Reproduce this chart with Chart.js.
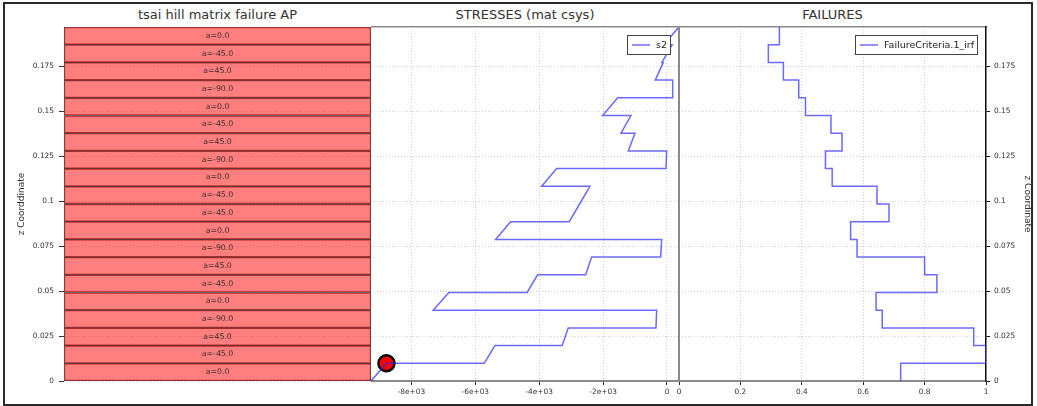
<!DOCTYPE html>
<html>
<head>
<meta charset="utf-8">
<title>tsai hill matrix failure AP</title>
<script src="https://cdn.jsdelivr.net/npm/chart.js@4.4.1/dist/chart.umd.min.js"></script>
<style>
  html, body { margin: 0; padding: 0; background: #fff; }
  body { width: 1037px; height: 406px; position: relative; overflow: hidden; font-family: 'DejaVu Sans', sans-serif; }
  canvas { position: absolute; top: 0; }
  #cvPlies { left: 0; }
  #cvStress { left: 371px; }
  #cvFail { left: 671px; }
  .ttl { position: absolute; top: 6px; height: 17px; line-height: 17px; font-size: 13px; color: #333; text-align: center; white-space: nowrap; }
  #frame { position: absolute; left: 3px; top: 2px; width: 1026px; height: 400px; border: 2px solid #2a2a2a; z-index: 5; }
</style>
</head>
<body>
<div class="ttl" style="left:64px;width:307px;">tsai hill matrix failure AP</div>
<div class="ttl" style="left:371px;width:308px;">STRESSES (mat csys)</div>
<div class="ttl" style="left:679px;width:307px;">FAILURES</div>
<canvas id="cvPlies" width="371" height="406"></canvas>
<canvas id="cvStress" width="308" height="406"></canvas>
<canvas id="cvFail" width="366" height="406"></canvas>
<div id="frame"></div>
<script>
// Laminate layup, listed from the bottom face (z = 0) upwards
const plyAngles = [0, -45, 45, -90, 0, -45, 45, -90, 0, -45, -45, 0, -90, 45, -45, 0, -90, 45, -45, 0];
const plyThickness = 0.0098425;

// s2 in the material system at the bottom and top face of each ply
const s2Bottom = [-9264, -5720, -3279, -345, -7318, -4375, -2546, -197, -5364, -3060,
                  -2734, -3924, -31, -1212, -1441, -2014, 179, -366, -160, -105];
const s2Top    = [-8780, -5385, -3091, -323, -6826, -4050, -2358, -166, -4895, -2734,
                  -2411, -3454, -9, -1002, -1128, -1544, 179, -116, 160, 376];

// Tsai-Hill matrix failure index of each ply
const failureIndex = [0.722, 1.0, 0.960, 0.662, 0.642, 0.840, 0.800, 0.580, 0.559, 0.684,
                      0.645, 0.499, 0.477, 0.531, 0.495, 0.412, 0.390, 0.340, 0.291, 0.327];

// Ply whose top face is flagged as the critical point
const criticalPly = 0;

// Axis ticks
const zTicks = [0, 0.025, 0.05, 0.075, 0.1, 0.125, 0.15, 0.175];
const zTickLabels = ['0', '0.025', '0.05', '0.075', '0.1', '0.125', '0.15', '0.175'];
const stressTicks = [-8000, -6000, -4000, -2000, 0];
const stressTickLabels = ['-8e+03', '-6e+03', '-4e+03', '-2e+03', '0'];
const failTicks = [0, 0.2, 0.4, 0.6, 0.8, 1];
const failTickLabels = ['0', '0.2', '0.4', '0.6', '0.8', '1'];

// Ply face coordinates
const zFaces = [0];
plyAngles.forEach((_, i) => zFaces.push(zFaces[i] + plyThickness));
const zTop = zFaces[zFaces.length - 1];

const stressPoints = [];
s2Bottom.forEach((v, i) => {
  stressPoints.push({ x: v, y: zFaces[i] });
  stressPoints.push({ x: s2Top[i], y: zFaces[i + 1] });
});
const failPoints = [];
failureIndex.forEach((v, i) => {
  failPoints.push({ x: v, y: zFaces[i] });
  failPoints.push({ x: v, y: zFaces[i + 1] });
});
const plyBars = plyAngles.map((a, i) => ({ x: [0, 1], y: (zFaces[i] + zFaces[i + 1]) / 2 }));

Chart.defaults.font.family = "'DejaVu Sans', sans-serif";
Chart.defaults.color = '#333';
Chart.defaults.animation = false;
Chart.defaults.events = [];
Chart.defaults.plugins.legend.display = false;
Chart.defaults.plugins.tooltip.enabled = false;

const LINE_BLUE = 'rgba(35, 35, 255, 0.68)';
const GRID = '#cfcfcf';
const TICK_FONT = { size: 7.4 };

const fixedTicks = (values) => (scale) => { scale.ticks = values.map(v => ({ value: v })); };
const labelFor = (values, labels) => (v) => { const k = values.indexOf(v); return k >= 0 ? labels[k] : ''; };

// Boxed legend in the top-right corner of the plot area
const boxLegend = {
  id: 'boxLegend',
  afterDatasetsDraw(chart) {
    const ds = chart.data.datasets[0];
    const a = chart.chartArea;
    const ctx = chart.ctx;
    ctx.save();
    ctx.font = "9.5px 'DejaVu Sans', sans-serif";
    const tw = ctx.measureText(ds.label).width;
    const w = Math.round(5 + 18 + 6 + tw + 4), h = 20;
    const x = Math.round(a.right - 8 - w), y = Math.round(a.top + 8);
    ctx.fillStyle = '#fff';
    ctx.fillRect(x, y, w, h);
    ctx.strokeStyle = '#444';
    ctx.lineWidth = 1;
    ctx.strokeRect(x + 0.5, y + 0.5, w - 1, h - 1);
    ctx.strokeStyle = ds.borderColor;
    ctx.lineWidth = 1.5;
    ctx.beginPath();
    ctx.moveTo(x + 5, y + h / 2);
    ctx.lineTo(x + 23, y + h / 2);
    ctx.stroke();
    ctx.fillStyle = '#222';
    ctx.textBaseline = 'middle';
    ctx.fillText(ds.label, x + 29, y + h / 2 + 0.5);
    ctx.restore();
  }
};

// Angle caption centred on each ply
const plyLabels = {
  id: 'plyLabels',
  afterDatasetsDraw(chart) {
    const meta = chart.getDatasetMeta(0);
    const ctx = chart.ctx;
    ctx.save();
    ctx.font = "7.8px 'DejaVu Sans', sans-serif";
    ctx.fillStyle = '#3a2a2a';
    ctx.textAlign = 'center';
    ctx.textBaseline = 'middle';
    meta.data.forEach((bar, i) => {
      ctx.fillText('a=' + plyAngles[i].toFixed(1), (bar.x + bar.base) / 2, bar.y);
    });
    ctx.restore();
  }
};

// Ply stack
new Chart(document.getElementById('cvPlies'), {
  type: 'bar',
  data: {
    datasets: [{
      data: plyBars,
      backgroundColor: 'rgba(255, 0, 0, 0.5)',
      borderColor: 'rgba(70, 30, 30, 0.8)',
      borderWidth: 0.8,
      borderSkipped: false,
      barPercentage: 1,
      categoryPercentage: 1
    }]
  },
  options: {
    responsive: false,
    indexAxis: 'y',
    layout: { autoPadding: false, padding: { top: 27, bottom: 25, left: 0, right: 0 } },
    scales: {
      x: { type: 'linear', min: 0, max: 1, display: false },
      y: {
        type: 'linear', position: 'left', min: 0, max: zTop, offset: false,
        afterBuildTicks: fixedTicks(zTicks),
        afterFit: (s) => { s.width = 64; },
        ticks: { font: TICK_FONT, color: '#333', padding: 5, callback: labelFor(zTicks, zTickLabels) },
        grid: { offset: false, color: GRID, tickColor: '#333', tickLength: 5 },
        border: { display: false, dash: [1, 2] },
        title: { display: true, text: 'z Coorddinate', font: { size: 9 }, color: '#333', padding: { top: 16.6, bottom: 0 } }
      }
    }
  },
  plugins: [plyLabels]
});

// s2 through the thickness
new Chart(document.getElementById('cvStress'), {
  type: 'scatter',
  data: {
    datasets: [{
      label: 's2',
      data: stressPoints,
      showLine: true,
      borderColor: LINE_BLUE,
      borderWidth: 1.5,
      pointRadius: 0
    }, {
      label: 'critical',
      data: [{ x: s2Top[criticalPly], y: zFaces[criticalPly + 1] }],
      pointRadius: 8,
      backgroundColor: '#ff0000',
      borderColor: '#000',
      borderWidth: 2.5,
      clip: false
    }]
  },
  options: {
    responsive: false,
    layout: { autoPadding: false, padding: { top: 27, bottom: 0, left: 0, right: 0 } },
    scales: {
      x: {
        type: 'linear', position: 'bottom',
        min: Math.min(...s2Bottom, ...s2Top), max: Math.max(...s2Bottom, ...s2Top),
        afterBuildTicks: fixedTicks(stressTicks),
        afterFit: (s) => { s.height = 25; },
        ticks: { font: TICK_FONT, color: '#333', padding: 3, maxRotation: 0, callback: labelFor(stressTicks, stressTickLabels) },
        grid: { color: GRID, tickColor: '#222', tickLength: 4 },
        border: { display: true, color: '#8a8a8a', width: 2, dash: [1, 2] }
      },
      xTop: {
        type: 'linear', position: 'top', min: 0, max: 1,
        afterFit: (s) => { s.height = 0; },
        ticks: { display: false },
        grid: { display: false },
        border: { display: true, color: '#8a8a8a', width: 1.5 }
      },
      y: {
        type: 'linear', position: 'left', min: 0, max: zTop,
        afterBuildTicks: fixedTicks(zTicks),
        afterFit: (s) => { s.width = 0; },
        ticks: { display: false },
        grid: { color: GRID, drawTicks: false },
        border: { display: false, dash: [1, 2] }
      }
    }
  },
  plugins: [boxLegend]
});

// Failure index through the thickness
new Chart(document.getElementById('cvFail'), {
  type: 'scatter',
  data: {
    datasets: [{
      label: 'FailureCriteria.1_irf',
      data: failPoints,
      showLine: true,
      borderColor: LINE_BLUE,
      borderWidth: 1.5,
      pointRadius: 0
    }]
  },
  options: {
    responsive: false,
    layout: { autoPadding: false, padding: { top: 27, bottom: 0, left: 8, right: 0 } },
    scales: {
      x: {
        type: 'linear', position: 'bottom', min: 0, max: 1,
        afterBuildTicks: fixedTicks(failTicks),
        afterFit: (s) => { s.height = 25; },
        ticks: { font: TICK_FONT, color: '#333', padding: 3, maxRotation: 0, callback: labelFor(failTicks, failTickLabels) },
        grid: { color: GRID, tickColor: '#222', tickLength: 4 },
        border: { display: true, color: '#8a8a8a', width: 2, dash: [1, 2] }
      },
      xTop: {
        type: 'linear', position: 'top', min: 0, max: 1,
        afterFit: (s) => { s.height = 0; },
        ticks: { display: false },
        grid: { display: false },
        border: { display: true, color: '#8a8a8a', width: 1.5 }
      },
      yEdge: {
        type: 'linear', position: 'left', min: 0, max: zTop,
        afterFit: (s) => { s.width = 0; },
        ticks: { display: false },
        grid: { display: false },
        border: { display: true, color: '#8a8a8a', width: 2 }
      },
      y: {
        type: 'linear', position: 'right', min: 0, max: zTop,
        afterBuildTicks: fixedTicks(zTicks),
        afterFit: (s) => { s.width = 51; },
        ticks: { font: TICK_FONT, color: '#333', padding: 4, callback: labelFor(zTicks, zTickLabels) },
        grid: { color: GRID, tickColor: '#111', tickLength: 4 },
        border: { display: true, color: '#111', width: 1.5, dash: [1, 2] },
        title: { display: true, text: 'z Coordinate', font: { size: 9 }, color: '#333', padding: { top: 4.6, bottom: 0 } }
      }
    }
  },
  plugins: [boxLegend]
});
</script>
</body>
</html>
